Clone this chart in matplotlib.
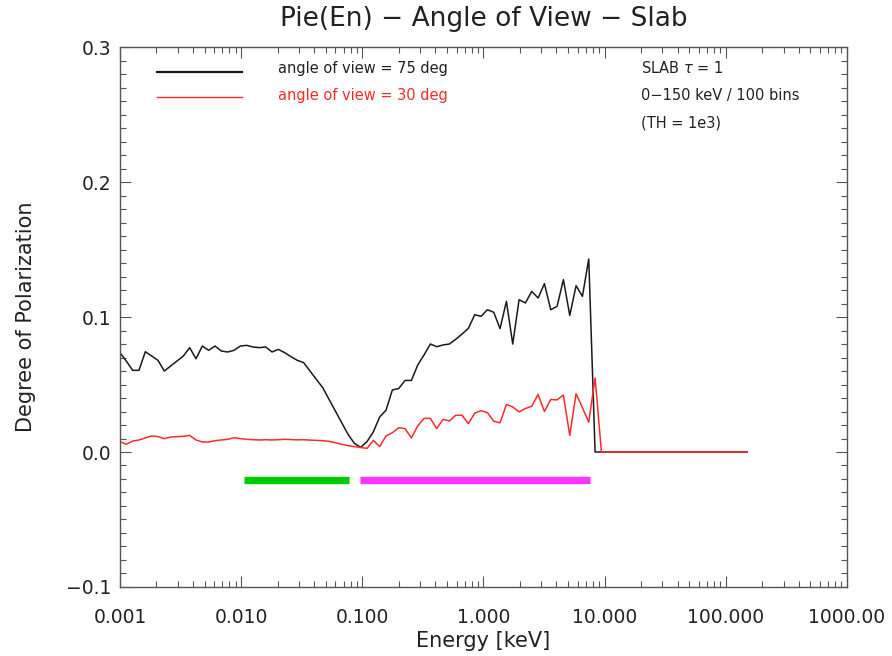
import numpy as np
import matplotlib
matplotlib.use('Agg')
import matplotlib.pyplot as plt
from matplotlib.ticker import FixedLocator, FixedFormatter, MultipleLocator

# 100 log-spaced energy bins, 0.001 - 150 keV
energy = np.logspace(-3, np.log10(150.0), 100)

pol_75 = [
    0.0736, 0.0674, 0.0605, 0.0605, 0.0743, 0.0711, 0.0679, 0.0600, 0.0637, 0.0674,
    0.0711, 0.0773, 0.0691, 0.0785, 0.0753, 0.0785, 0.0748, 0.0741, 0.0753, 0.0785,
    0.0790, 0.0778, 0.0773, 0.0778, 0.0741, 0.0760, 0.0736, 0.0706, 0.0679, 0.0662,
    0.0600, 0.0538, 0.0477, 0.0390, 0.0304, 0.0217, 0.0131, 0.0064, 0.0035, 0.0077,
    0.0150, 0.0260, 0.0310, 0.0460, 0.0470, 0.0530, 0.0530, 0.0644, 0.0719, 0.0800,
    0.0780, 0.0793, 0.0800, 0.0835, 0.0874, 0.0916, 0.1017, 0.1005, 0.1054, 0.1035,
    0.0914, 0.1116, 0.0800, 0.1128, 0.1104, 0.1190, 0.1141, 0.1247, 0.1054, 0.1079,
    0.1277, 0.1012, 0.1232, 0.1153, 0.1430, 0.0, 0.0, 0.0, 0.0, 0.0,
    0.0, 0.0, 0.0, 0.0, 0.0, 0.0, 0.0, 0.0, 0.0, 0.0,
    0.0, 0.0, 0.0, 0.0, 0.0, 0.0, 0.0, 0.0, 0.0, 0.0,
]

pol_30 = [
    0.0077, 0.0057, 0.0081, 0.0089, 0.0104, 0.0119, 0.0114, 0.0099, 0.0111, 0.0114,
    0.0116, 0.0123, 0.0089, 0.0074, 0.0074, 0.0084, 0.0089, 0.0094, 0.0106, 0.0099,
    0.0094, 0.0091, 0.0089, 0.0091, 0.0089, 0.0091, 0.0094, 0.0092, 0.0090, 0.0091,
    0.0088, 0.0086, 0.0084, 0.0079, 0.0069, 0.0057, 0.0047, 0.0040, 0.0033, 0.0027,
    0.0086, 0.0040, 0.0119, 0.0143, 0.0180, 0.0173, 0.0104, 0.0193, 0.0249, 0.0249,
    0.0173, 0.0242, 0.0230, 0.0272, 0.0272, 0.0210, 0.0288, 0.0306, 0.0292, 0.0228,
    0.0216, 0.0352, 0.0334, 0.0297, 0.0322, 0.0339, 0.0426, 0.0300, 0.0389, 0.0386,
    0.0422, 0.0123, 0.0432, 0.0328, 0.0221, 0.0548, 0.0, 0.0, 0.0, 0.0,
    0.0, 0.0, 0.0, 0.0, 0.0, 0.0, 0.0, 0.0, 0.0, 0.0,
    0.0, 0.0, 0.0, 0.0, 0.0, 0.0, 0.0, 0.0, 0.0, 0.0,
]

# energy bands shown as thick bars under the curves
band_green = [0.0106, 0.078]
band_magenta = [0.095, 7.56]
band_level = -0.021

xtick_vals = [0.001, 0.01, 0.1, 1.0, 10.0, 100.0, 1000.0]
xtick_labels = ['0.001', '0.010', '0.100', '1.000', '10.000', '100.000', '1000.00']
ytick_vals = [-0.1, 0.0, 0.1, 0.2, 0.3]
ytick_labels = ['\u22120.1', '0.0', '0.1', '0.2', '0.3']

# legend sample lines (energy range, level)
legend_x = [0.00202, 0.0102]
legend_y75 = 0.2815
legend_y30 = 0.2630

fig = plt.figure(figsize=(8.92, 6.56), dpi=100)
ax = fig.add_axes([0.1345, 0.1052, 0.815, 0.8231])

ax.plot(energy, pol_75, color='#1a1a1a', lw=1.1)
ax.plot(energy, pol_30, color='#ff2a2a', lw=1.1)
ax.plot(band_green, [band_level, band_level], color='#00cc00', lw=5.3, solid_capstyle='butt')
ax.plot(band_magenta, [band_level, band_level], color='#ff33ff', lw=5.3, solid_capstyle='butt')

ax.set_xscale('log')
ax.set_xlim(0.001, 1000.0)
ax.set_ylim(-0.1, 0.3)

ax.xaxis.set_major_locator(FixedLocator(xtick_vals))
ax.xaxis.set_major_formatter(FixedFormatter(xtick_labels))
ax.yaxis.set_major_locator(FixedLocator(ytick_vals))
ax.yaxis.set_major_formatter(FixedFormatter(ytick_labels))
ax.yaxis.set_minor_locator(MultipleLocator(0.01))

frame_col = '#555555'
for s in ax.spines.values():
    s.set_color(frame_col)
    s.set_linewidth(1.0)
ax.tick_params(which='both', direction='in', top=True, right=True, color=frame_col,
               labelsize=13.5, labelcolor='#222222')
ax.tick_params(axis='x', pad=15)
ax.tick_params(axis='y', pad=6)
ax.tick_params(which='major', length=8, width=0.8)
ax.tick_params(which='minor', length=4, width=0.8)

ax.set_xlabel('Energy [keV]', fontsize=15, color='#222222', labelpad=3)
ax.set_ylabel('Degree of Polarization', fontsize=15, color='#222222', labelpad=22)
ax.set_title('Pie(En) \u2212 Angle of View \u2212 Slab', fontsize=19, color='#222222', pad=15)

# legend drawn by hand
ax.plot(legend_x, [legend_y75, legend_y75], color='#1a1a1a', lw=1.6)
ax.plot(legend_x, [legend_y30, legend_y30], color='#ff2a2a', lw=1.0)
ax.text(0.217, 0.961, 'angle of view = 75 deg', transform=ax.transAxes, fontsize=10.5,
        color='#222222', va='center')
ax.text(0.217, 0.911, 'angle of view = 30 deg', transform=ax.transAxes, fontsize=10.5,
        color='#ff2a2a', va='center')

ax.text(0.717, 0.961, 'SLAB $\\tau$ = 1', transform=ax.transAxes, fontsize=10.5,
        color='#222222', va='center')
ax.text(0.717, 0.911, '0\u2212150 keV / 100 bins', transform=ax.transAxes, fontsize=10.5,
        color='#222222', va='center')
ax.text(0.717, 0.859, '(TH = 1e3)', transform=ax.transAxes, fontsize=10.5,
        color='#222222', va='center')

fig.savefig('out.png', dpi=100)
